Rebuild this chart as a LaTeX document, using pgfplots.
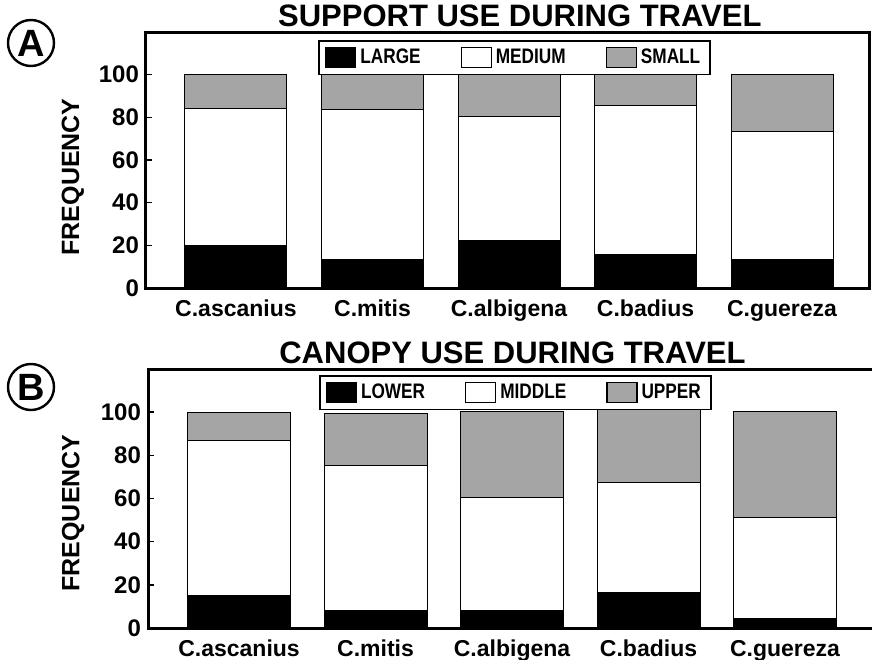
\documentclass[border=0pt]{standalone}
\usepackage{fontspec}
\setmainfont{Liberation Sans}
\newfontfamily\condfont{Liberation Sans}[FakeStretch=0.82]
\usepackage{pgfplots}
\usepackage{pgfplotstable}
\pgfplotsset{compat=1.18}
\definecolor{smallgray}{RGB}{165,165,165}

\pgfplotstableread{
x large medium small
0 20 64 16
1 13.5 70 16.5
2 22.5 58 19.5
3 15.5 70 14.5
4 13.5 60 26.5
}\supportdata
\pgfplotstableread{
x lower middle upper
0 15 72 13
1 8 67.5 24
2 8 52.5 40
3 16.5 51 34
4 4.5 46.5 49.5
}\canopydata

\pgfplotsset{
 panel/.style={
  scale only axis,
  ybar stacked,
  ymin=0, ymax=120,
  ytick={0,20,...,100},
  xtick={0,...,4},
  xticklabels={C.ascanius,C.mitis,C.albigena,C.badius,C.guereza},
  tick align=inside,
  ytick pos=left,
  major tick length=3pt,
  x tick style={draw=none},
  axis line style={line width=1.5pt},
  y tick style={line width=0.8pt, black},
  /pgf/number format/assume math mode=true,
  yticklabel style={font=\fontsize{12}{14}\selectfont\bfseries},
  xticklabel style={font=\fontsize{11.5}{13}\selectfont\bfseries, yshift=-2.5pt},
  title style={font=\fontsize{15.5}{18}\selectfont\bfseries, anchor=base, yshift=-6pt},
  ylabel style={font=\fontsize{12.5}{15}\selectfont\bfseries, anchor=center},
  legend columns=3,
  legend style={draw=black, line width=0.8pt, font=\condfont\fontsize{10.5}{12}\selectfont\bfseries, anchor=north, inner xsep=3pt, inner ysep=2pt, /tikz/every even column/.append style={column sep=18pt}},
  legend image code/.code={\draw[#1, line width=0.6pt] (0pt,-5pt) rectangle (15pt,5pt);},
  every axis plot/.append style={draw=black, line width=0.5pt},
 }
}

\begin{document}
\begin{tikzpicture}
\useasboundingbox (0,0) rectangle (436pt,-329.5pt);

\begin{axis}[panel,
  at={(73pt,-144pt)}, anchor=south west,
  width=361.5pt, height=128pt,
  xmin=-0.659, xmax=4.637,
  bar width=51pt,
  title={SUPPORT USE DURING TRAVEL},
  title style={at={(axis description cs:0.517,1.02)}},
  ylabel={FREQUENCY},
  ylabel style={at={(axis description cs:-0.101,0.434)}},
  legend style={at={(0.51,0.969)}},
]
\addplot[fill=black] table[x=x,y=large]{\supportdata};
\addplot[fill=white] table[x=x,y=medium]{\supportdata};
\addplot[fill=smallgray] table[x=x,y=small]{\supportdata};
\legend{LARGE,MEDIUM,SMALL}
\end{axis}

\begin{axis}[panel,
  at={(74pt,-314pt)}, anchor=south west,
  width=363pt, height=129.5pt,
  xmin=-0.667, xmax=4.652,
  bar width=51.5pt,
  title={CANOPY USE DURING TRAVEL},
  title style={at={(axis description cs:0.502,1.023)}},
  ylabel={FREQUENCY},
  ylabel style={at={(axis description cs:-0.103,0.444)}},
  legend style={at={(0.506,0.977)}},
]
\addplot[fill=black] table[x=x,y=lower]{\canopydata};
\addplot[fill=white] table[x=x,y=middle]{\canopydata};
\addplot[fill=smallgray] table[x=x,y=upper]{\canopydata};
\legend{LOWER,MIDDLE,UPPER}
\end{axis}

\node[circle, draw, line width=1.2pt, minimum size=23pt, inner sep=0pt, font=\fontsize{19}{20}\selectfont\bfseries] at (15.5pt,-21.5pt) {A};
\node[circle, draw, line width=1.2pt, minimum size=23pt, inner sep=0pt, font=\fontsize{19}{20}\selectfont\bfseries] at (15.5pt,-193.5pt) {B};
\end{tikzpicture}
\end{document}
